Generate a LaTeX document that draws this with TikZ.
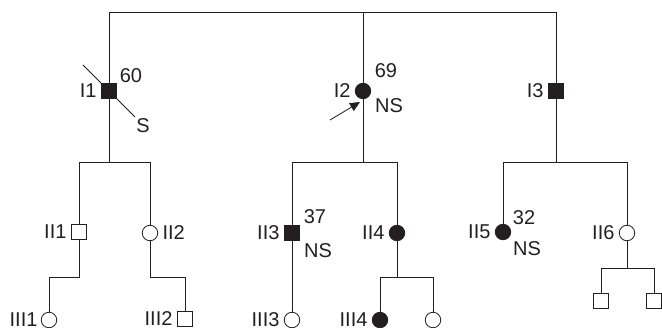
\documentclass[tikz,border=0pt]{standalone}
\usepackage{fontspec}
\setmainfont{Liberation Sans}
\usetikzlibrary{arrows.meta}
\definecolor{ink}{HTML}{231F20}
\begin{document}
\begin{tikzpicture}[x=1pt,y=-1pt,
  line width=0.8pt, draw=ink,
  male/.style={draw=ink, line width=0.8pt, rectangle, minimum size=15.5pt, inner sep=0pt, fill=white},
  female/.style={draw=ink, line width=0.8pt, circle, minimum size=15.5pt, inner sep=0pt, fill=white},
  aff/.style={fill=ink},
  lbl/.style={inner sep=0pt, text=ink, font=\fontsize{20}{23}\selectfont},
  ll/.style={lbl, anchor=east, xshift=-4pt},
  rl/.style={lbl, anchor=west, xshift=4pt}]
\useasboundingbox (0,0) rectangle (662,328);
% coordinates of line joints
\coordinate (t1) at (109,12);
\coordinate (t2) at (363,12);
\coordinate (t3) at (556,12);
\coordinate (s1a) at (79,162);
\coordinate (s1b) at (150,162);
\coordinate (s2a) at (292,162);
\coordinate (s2b) at (397,162);
\coordinate (s3a) at (503,162);
\coordinate (s3b) at (627,162);
\coordinate (j1a) at (79,277);
\coordinate (j1b) at (49,277);
\coordinate (j2a) at (150,277);
\coordinate (j2b) at (185,277);
\coordinate (j4) at (397,277);
\coordinate (j4a) at (380,277);
\coordinate (j4b) at (433,277);
\coordinate (j6) at (627,268);
\coordinate (j6a) at (601,268);
\coordinate (j6b) at (654,268);
% generation I
\coordinate (I1c) at (109,91);
\coordinate (I2c) at (363,91);
\coordinate (I3c) at (556,91);
% connectors
\draw (I1c) -- (t1) -- (t3) -- (I3c);
\draw (I2c) -- (t2);
\draw (I1c) -- (109,162);
\draw (I2c) -- (363,162);
\draw (I3c) -- (556,162);
\draw (s1a) -- (s1b);
\draw (s2a) -- (s2b);
\draw (s3a) -- (s3b);
% generation II nodes
\node[male] (II1) at (79,232) {};
\node[female] (II2) at (150,233) {};
\node[male,aff] (II3) at (292,233) {};
\node[female,aff] (II4) at (397,233) {};
\node[female,aff] (II5) at (503,232) {};
\node[female] (II6) at (627,233) {};
% generation III nodes
\node[female] (III1) at (49,320) {};
\node[male] (III2) at (185,319) {};
\node[female] (III3) at (292,320) {};
\node[female,aff] (III4) at (380,320) {};
\node[female] (III5) at (433,320) {};
\node[male] (III6) at (601,301) {};
\node[male] (III7) at (654,301) {};
% connectors II
\draw (s1a) -- (II1.north);
\draw (s1b) -- (II2.north);
\draw (s2a) -- (II3.north);
\draw (s2b) -- (II4.north);
\draw (s3a) -- (II5.north);
\draw (s3b) -- (II6.north);
\draw (II1.south) -- (j1a) -- (j1b) -- (III1.north);
\draw (II2.south) -- (j2a) -- (j2b) -- (III2.north);
\draw (II3.south) -- (III3.north);
\draw (II4.south) -- (j4);
\draw (III4.north) -- (j4a) -- (j4b) -- (III5.north);
\draw (II6.south) -- (j6);
\draw (III6.north) -- (j6a) -- (j6b) -- (III7.north);
% generation I symbols
\node[male,aff] (I1) at (I1c) {};
\node[female,aff] (I2) at (I2c) {};
\node[male,aff] (I3) at (I3c) {};
% proband marks
\coordinate (d1) at (83,65);
\coordinate (d2) at (135,117);
\draw (d1) -- (d2);
\coordinate (ar) at (330,120);
\draw[-{Triangle[length=10pt,width=9pt]}] (ar) -- (360,102);
% labels
\node[ll] (lI1) at (I1.west) {I1};
\node[lbl] (a60) at (131,76) {60};
\node[lbl] (lS) at (143,126) {S};
\node[ll] (lI2) at (I2.west) {I2};
\node[lbl] (a69) at (386,71) {69};
\node[lbl] (ns2) at (389,106) {NS};
\node[ll] (lI3) at (I3.west) {I3};
\node[ll] (lII1) at (II1.west) {II1};
\node[rl] (lII2) at (II2.east) {II2};
\node[ll] (lII3) at (II3.west) {II3};
\node[lbl] (a37) at (315,217) {37};
\node[lbl] (ns3) at (318,251) {NS};
\node[ll] (lII4) at (II4.west) {II4};
\node[ll] (lII5) at (II5.west) {II5};
\node[lbl] (a32) at (524,218) {32};
\node[lbl] (ns5) at (527,249) {NS};
\node[ll] (lII6) at (II6.west) {II6};
\node[ll, xshift=1pt] (lIII1) at (III1.west) {III1};
\node[ll] (lIII2) at (III2.west) {III2};
\node[ll] (lIII3) at (III3.west) {III3};
\node[ll] (lIII4) at (III4.west) {III4};
\end{tikzpicture}
\end{document}
